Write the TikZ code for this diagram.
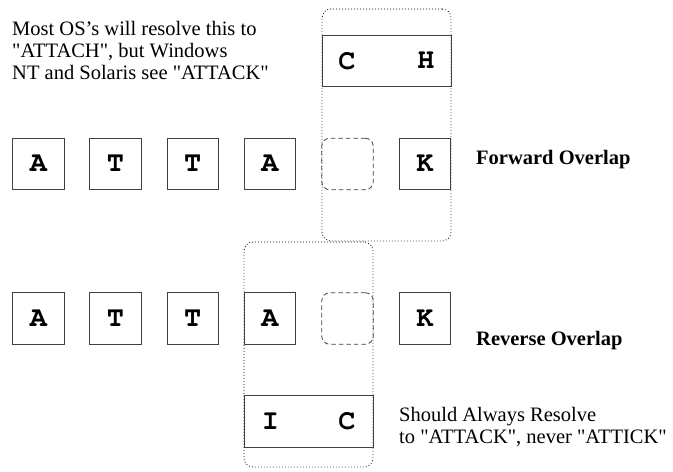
\documentclass[tikz,border=0pt]{standalone}
\usepackage[T1]{fontenc}
\usepackage{fontspec}
\setmainfont{Liberation Serif}[Ligatures=TeXOff]
\newcommand\courierbold{\fontencoding{T1}\fontfamily{pcr}\fontseries{b}\fontshape{n}\fontsize{28.5bp}{28.5bp}\selectfont}
\begin{document}
\begin{tikzpicture}[x=1bp,y=-1bp,
  lettertext/.style={font=\courierbold},
  letterbox/.style={draw=black!75,line width=0.9bp,minimum width=51.5bp,minimum height=51.5bp,inner sep=0,lettertext},
  widebox/.style={draw=black!75,line width=0.9bp,minimum width=129bp,minimum height=51.5bp,inner sep=0},
  gapbox/.style={draw=black!75,line width=0.8bp,dash pattern=on 4.5bp off 3bp,rounded corners=8bp,
    minimum width=51.5bp,minimum height=51.5bp,inner sep=0},
  overlapbox/.style={draw=black,line width=0.8bp,dash pattern=on 0.8bp off 2.2bp,rounded corners=9bp,
    minimum width=129bp,inner sep=0},
  note/.style={anchor=base west,inner sep=0,font=\fontsize{20.5bp}{22bp}\selectfont},
  title/.style={anchor=base west,inner sep=0,font=\bfseries\fontsize{20.5bp}{22bp}\selectfont},
  inbox/.style={inner sep=0,anchor=center,lettertext}]
\useasboundingbox (0,0) rectangle (673,472);
% overlap regions
\node[overlapbox,minimum height=232bp] (fwd) at (386.5,125) {};
\node[overlapbox,minimum height=225bp] (rev) at (308.5,354.5) {};
% row 1
\node[letterbox] (a1) at (38.3,164) {A};
\node[letterbox] (t1) at (115.5,164) {T};
\node[letterbox] (t2) at (192.7,164) {T};
\node[letterbox] (a2) at (270,164) {A};
\node[gapbox] (g1) at (347.5,164) {};
\node[letterbox] (k1) at (425,164) {K};
\node[widebox] (ch) at (386.5,61) {};
\node[inbox] (chc) at (347,61) {C};
\node[inbox] (chh) at (426,61) {H};
% row 2
\node[letterbox] (b1) at (38.3,318.5) {A};
\node[letterbox] (u1) at (115.5,318.5) {T};
\node[letterbox] (u2) at (192.7,318.5) {T};
\node[letterbox] (b2) at (270,318.5) {A};
\node[gapbox] (g2) at (347.5,318.5) {};
\node[letterbox] (k2) at (425,318.5) {K};
\node[widebox] (ic) at (308.5,421.5) {};
\node[inbox] (ici) at (270.5,421.5) {I};
\node[inbox] (icc) at (347,421.5) {C};
% texts
\node[note] (n1) at (12,36) {Most OS’s will resolve this to};
\node[note] (n2) at (12,58) {"ATTACH", but Windows};
\node[note] (n3) at (12,80) {NT and Solaris see "ATTACK"};
\node[title] (fo) at (476,165) {Forward Overlap};
\node[title] (ro) at (476,345) {Reverse Overlap};
\node[note] (s1) at (399,421) {Should Always Resolve};
\node[note] (s2) at (399,443) {to "ATTACK", never "ATTICK"};
\end{tikzpicture}
\end{document}
